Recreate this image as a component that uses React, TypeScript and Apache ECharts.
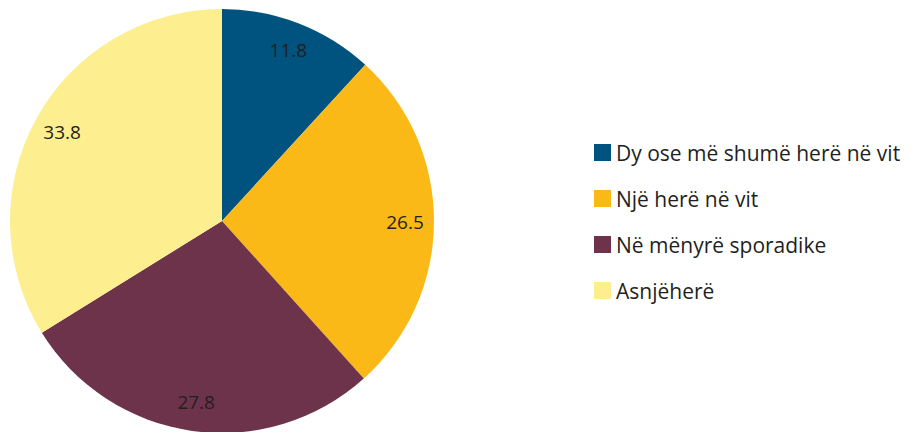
import React, { useEffect, useRef } from "react";
import * as echarts from "echarts";

const categories = ["Dy ose më shumë herë në vit", "Një herë në vit", "Në mënyrë sporadike", "Asnjëherë"];
const values = [11.8, 26.5, 27.8, 33.8];
const colors = ["#00527f", "#fbb918", "#6d334a", "#fdee8f"];

export default function App() {
  const ref = useRef<HTMLDivElement>(null);
  useEffect(() => {
    const chart = echarts.init(ref.current!, undefined, { renderer: "svg" });
    const data = categories.map((name, i) => ({ name, value: values[i], itemStyle: { color: colors[i] } }));
    chart.setOption({
      animation: false,
      legend: {
        orient: "vertical",
        left: 589,
        top: 137,
        itemWidth: 17,
        itemHeight: 17,
        itemGap: 25,
        icon: "rect",
        data: categories,
        textStyle: { fontFamily: "Open Sans", fontSize: 21, color: "#231f20" },
      },
      series: [
        {
          type: "pie",
          center: [222, 221],
          radius: [0, 212],
          startAngle: 90,
          clockwise: true,
          label: { show: false },
          labelLine: { show: false },
          emphasis: { disabled: true },
          data,
        },
        {
          type: "pie",
          center: [222, 221],
          radius: [148, 212],
          startAngle: 90,
          clockwise: true,
          silent: true,
          itemStyle: { color: "rgba(0,0,0,0)" },
          label: {
            show: true,
            position: "inside",
            formatter: (p: any) => p.value.toFixed(1),
            fontFamily: "Open Sans",
            fontSize: 19,
            color: "#231f20",
          },
          labelLine: { show: false },
          emphasis: { disabled: true },
          data: categories.map((name, i) => ({ name, value: values[i] })),
        },
      ],
    });
    return () => chart.dispose();
  }, []);
  return <div ref={ref} style={{ position: "absolute", left: 0, top: 0, width: 917, height: 432 }} />;
}
